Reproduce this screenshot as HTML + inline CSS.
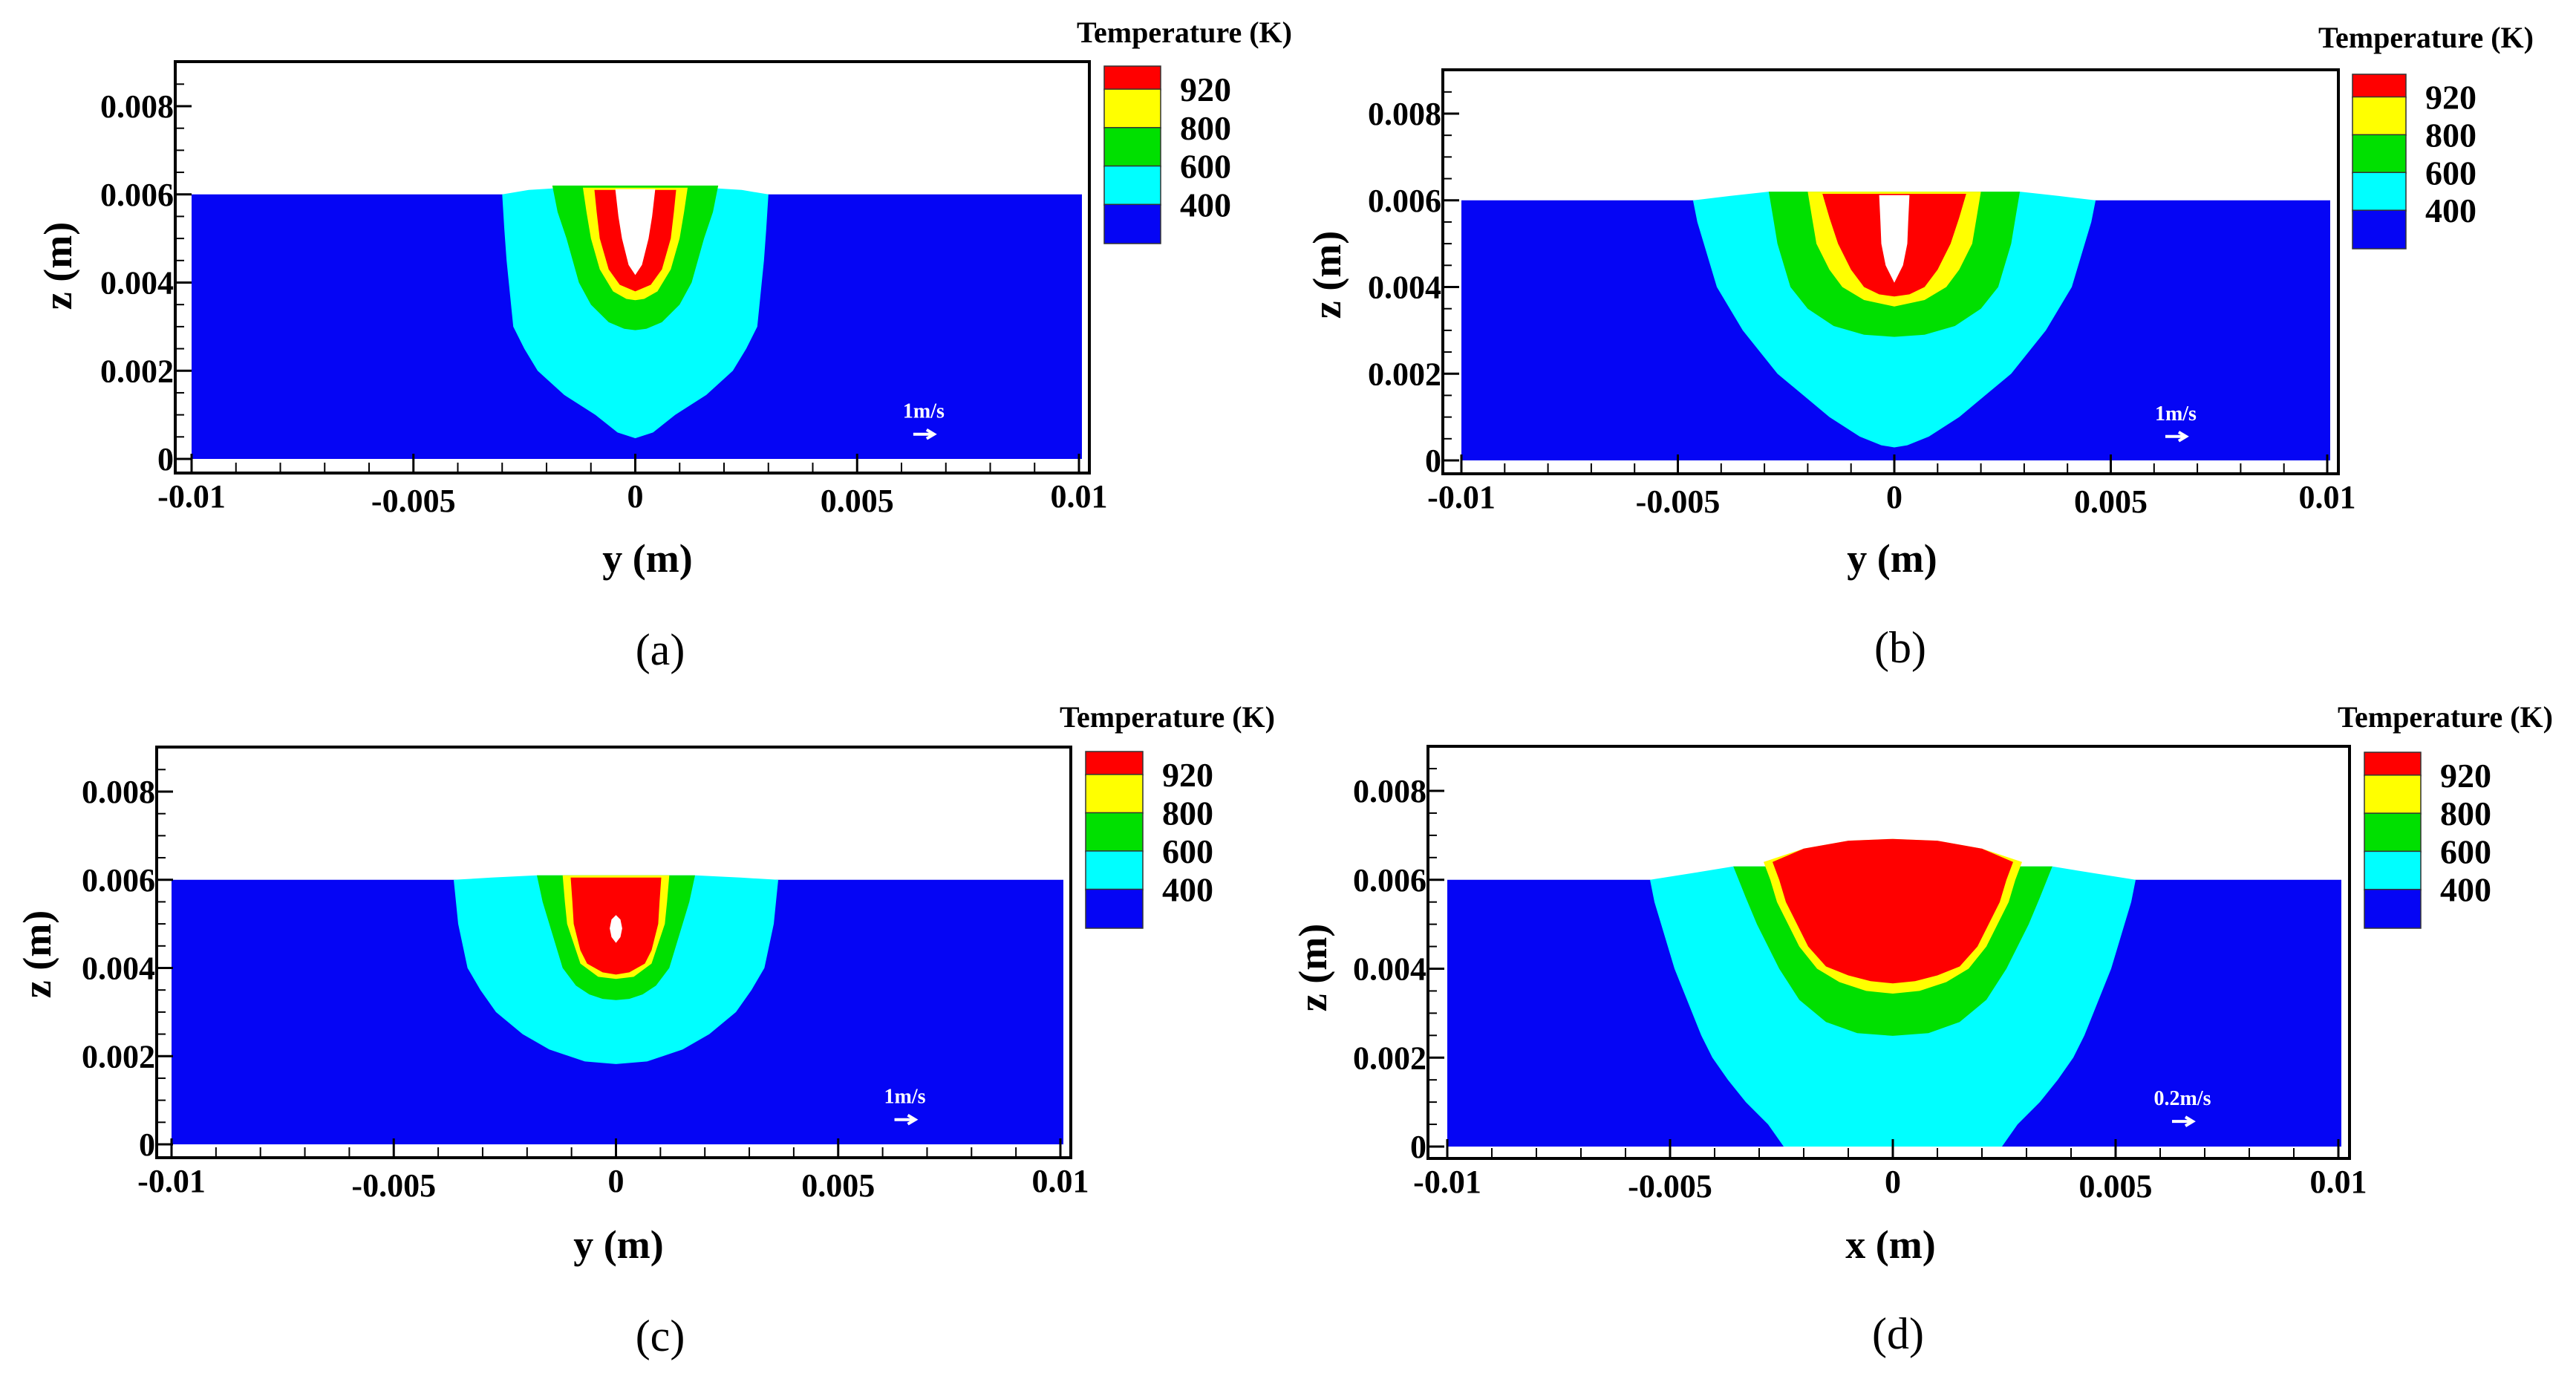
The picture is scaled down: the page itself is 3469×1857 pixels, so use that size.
<!DOCTYPE html>
<html><head><meta charset="utf-8"><style>
html,body{margin:0;padding:0;background:#fff;}
svg{display:block;}
text{font-family:"Liberation Serif",serif;}
</style></head>
<body>
<svg id="fig" width="3469" height="1857" viewBox="0 0 3469 1857" xmlns="http://www.w3.org/2000/svg"></svg>
<script>
// ---- data (mm units for contours) ----
const xTicks=[-0.01,-0.005,0,0.005,0.01];
const xTickLabels=['-0.01','-0.005','0','0.005','0.01'];
const zTicks=[0,0.002,0.004,0.006,0.008];
const zTickLabels=['0','0.002','0.004','0.006','0.008'];
const legendLabels=['920','800','600','400'];
const legendColors=['#ff0000','#ffff00','#00e000','#00ffff','#0505f5'];
const zoneColors=['#00ffff','#00e000','#ffff00','#ff0000','#ffffff'];
const velLabels=['1m/s','1m/s','1m/s','0.2m/s'];
const xAxisTitles=['y (m)','y (m)','y (m)','x (m)'];
const subLabels=['(a)','(b)','(c)','(d)'];
// right-half contour points [x mm, z mm], top to bottom (mirrored about x=0)
const aCyan=[[1.6,6.15],[2.4,6.1],[3.0,6.0],[2.95,5.2],[2.9,4.5],[2.75,3],[2.5,2.5],[2.2,2],[1.6,1.45],[0.9,1],[0.4,0.6],[0,0.47]];
const aGreen=[[1.87,6.2],[1.75,5.6],[1.55,5],[1.27,4],[1.0,3.5],[0.6,3.1],[0.25,2.95],[0,2.92]];
const aYellow=[[1.18,6.15],[1.1,5.6],[1.0,5],[0.8,4.3],[0.5,3.8],[0.2,3.63],[0,3.6]];
const aRed=[[0.92,6.1],[0.87,5.6],[0.8,5],[0.6,4.3],[0.35,3.95],[0,3.8]];
const aWhite=[[0.45,6.12],[0.38,5.5],[0.3,5],[0.15,4.4],[0,4.17]];
const bCyan=[[2.9,6.2],[3.8,6.1],[4.65,6.0],[4.55,5.5],[4.4,5],[4.1,4],[3.5,3],[3.1,2.5],[2.7,2],[2.1,1.5],[1.5,1],[0.8,0.55],[0.3,0.35],[0,0.3]];
const bGreen=[[2.9,6.2],[2.8,5.6],[2.7,5],[2.4,4],[2.0,3.5],[1.4,3.1],[0.7,2.9],[0,2.85]];
const bYellow=[[2.0,6.2],[1.9,5.6],[1.8,5],[1.5,4.4],[1.2,4],[0.7,3.7],[0,3.55]];
const bRed=[[1.66,6.15],[1.5,5.6],[1.3,5],[1.0,4.4],[0.7,4],[0.35,3.83],[0,3.78]];
const bWhite=[[0.35,6.12],[0.32,5.5],[0.3,5],[0.2,4.5],[0,4.1]];
const cCyan=[[1.78,6.1],[2.8,6.05],[3.65,6.0],[3.6,5.5],[3.55,5],[3.34,4],[3.05,3.5],[2.7,3],[2.1,2.5],[1.5,2.15],[0.7,1.88],[0,1.82]];
const cGreen=[[1.78,6.1],[1.65,5.5],[1.5,5],[1.2,4],[0.9,3.6],[0.6,3.4],[0.3,3.3],[0,3.27]];
const cYellow=[[1.2,6.1],[1.15,5.5],[1.1,5],[0.9,4.4],[0.8,4.1],[0.4,3.8],[0,3.75]];
const cRed=[[1.02,6.05],[0.98,5.5],[0.95,5],[0.8,4.4],[0.65,4.1],[0.3,3.9],[0,3.85]];
const cWhite=[[0,5.2],[0.1,5.1],[0.14,4.9],[0.1,4.7],[0,4.57]];
const dCyan=[[3.58,6.3],[4.5,6.15],[5.45,6.0],[5.35,5.5],[5.2,5],[4.9,4],[4.5,3],[4.3,2.5],[4.05,2],[3.7,1.5],[3.3,1],[2.8,0.5],[2.45,0]];
const dGreen=[[3.58,6.3],[3.3,5.6],[3.05,5],[2.55,4],[2.1,3.3],[1.5,2.8],[0.8,2.55],[0,2.49]];
const dYellow=[[0,6.92],[1.0,6.88],[2.0,6.7],[2.9,6.4],[2.75,6.0],[2.6,5.5],[2.1,4.5],[1.7,4.0],[1.2,3.7],[0.6,3.5],[0,3.44]];
const dRed=[[0,6.92],[1.0,6.88],[2.0,6.7],[2.7,6.4],[2.55,6.0],[2.4,5.5],[1.9,4.5],[1.5,4.05],[1.0,3.85],[0.5,3.72],[0,3.67]];
const dWhite=[];
const panelZones=[[aCyan,aGreen,aYellow,aRed,aWhite],[bCyan,bGreen,bYellow,bRed,bWhite],[cCyan,cGreen,cYellow,cRed,cWhite],[dCyan,dGreen,dYellow,dRed,dWhite]];
const surfaceZ=6.0;
const velPos=[6.5,1.1];

// ---- layout ----
const panels=[
 {f:[236,83,1467,637],xa:258,xb:1453,z0:618,z8:143,lg:[1487,89,1563,327],tr:1740,tb:57,xl:[872,770],sl:[889,895],zl:[78,358]},
 {f:[1943,94,3149,638],xa:1968,xb:3134,z0:620,z8:153,lg:[3168,100,3240,334],tr:3412,tb:64,xl:[2548,770],sl:[2559,892],zl:[1787,370]},
 {f:[211,1006,1442,1559],xa:231,xb:1428,z0:1541,z8:1066,lg:[1462,1012,1539,1249],tr:1717,tb:979,xl:[833,1694],sl:[889,1819],zl:[50,1285]},
 {f:[1923,1005,3164,1560],xa:1949,xb:3149,z0:1544,z8:1065,lg:[3184,1013,3260,1249],tr:3438,tb:979,xl:[2546,1694],sl:[2556,1816],zl:[1768,1303]}
];
const NS='http://www.w3.org/2000/svg';
const svg=document.getElementById('fig');
function mk(tag,attrs,parent){const e=document.createElementNS(NS,tag);for(const k in attrs)e.setAttribute(k,attrs[k]);(parent||svg).appendChild(e);return e;}
function poly(pts){
  return 'M'+pts.map(p=>p[0].toFixed(1)+','+p[1].toFixed(1)).join('L')+'Z';
}
panels.forEach((P,pi)=>{
  const g=mk('g',{});
  
  
  const sx=v=>P.xa+(v+0.01)/0.02*(P.xb-P.xa);
  const sz=v=>P.z0-v/0.008*(P.z0-P.z8);
  const mx=mm=>sx(mm/1000), mz=mm=>sz(mm/1000);
  const blue=mk('rect',{x:sx(-0.01),y:mz(surfaceZ),width:sx(0.01)-sx(-0.01)+4,height:mz(0)-mz(surfaceZ),fill:'#0505f5'},g);
  
  
  panelZones[pi].forEach((pts,zi)=>{
    if(!pts.length)return;
    const left=pts.map(p=>[mx(-p[0]),mz(p[1])]);
    const right=pts.slice().reverse().filter((p,i)=>!(i===0&&p[0]===0)).map(p=>[mx(p[0]),mz(p[1])]);
    const path=mk('path',{d:poly(left.concat(right)),fill:zoneColors[zi],'stroke-linejoin':'round'},g);
    
    
  });
  const [fl,ft,fr,fb]=P.f;
  const fr_=mk('rect',{x:fl,y:ft,width:fr-fl,height:fb-ft,fill:'none',stroke:'#000','stroke-width':4},g);
  
  
  for(let i=0;i<=20;i++){const v=-0.01+i*0.001;const x=sx(v);const maj=i%5===0;
    mk('line',{x1:x,y1:fb,x2:x,y2:fb-(maj?26:14),stroke:'#000','stroke-width':maj?3:2},g);}
  for(let i=0;i<=18;i++){const v=i*0.0005;const y=sz(v);const maj=i%4===0;
    mk('line',{x1:fl,y1:y,x2:fl+(maj?22:12),y2:y,stroke:'#000','stroke-width':maj?3:2},g);}
  xTicks.forEach((v,i)=>{const t=mk('text',{x:sx(v),y:fb+(i%2?52:46),'text-anchor':'middle','font-size':44,'font-weight':'bold'},g);t.textContent=xTickLabels[i];
    
    });
  zTicks.forEach((v,i)=>{const t=mk('text',{x:fl-2,y:sz(v)+15,'text-anchor':'end','font-size':44,'font-weight':'bold'},g);t.textContent=zTickLabels[i];
    
    });
  const xt=mk('text',{x:P.xl[0],y:P.xl[1],'text-anchor':'middle','font-size':54,'font-weight':'bold'},g);xt.textContent=xAxisTitles[pi];
  
  
  const zt=mk('text',{x:0,y:0,'text-anchor':'middle','font-size':54,'font-weight':'bold',transform:`translate(${P.zl[0]+18},${P.zl[1]}) rotate(-90)`},g);zt.textContent='z (m)';
  
  
  const st=mk('text',{x:P.sl[0],y:P.sl[1],'text-anchor':'middle','font-size':60},g);st.textContent=subLabels[pi];
  
  
  const [ll,lt,lr,lb]=P.lg;const h=(lb-lt)/4.6;
  const seg=[0.6,1,1,1,1];let y=lt;
  seg.forEach((s,i)=>{const r=mk('rect',{x:ll,y:y,width:lr-ll,height:h*s+1,fill:legendColors[i],stroke:'#333','stroke-width':1.5},g);
    
    
    y+=h*s;
    if(i<4){const t=mk('text',{x:lr+26,y:y+16,'font-size':46,'font-weight':'bold'},g);t.textContent=legendLabels[i];
      
      }
  });
  const tt=mk('text',{x:P.tr,y:P.tb,'text-anchor':'end','font-size':40,'font-weight':'bold'},g);tt.textContent='Temperature (K)';
  
  
  const vt=mk('text',{x:mx(velPos[0]),y:mz(velPos[1])+10,'text-anchor':'middle','font-size':28,'font-weight':'bold',fill:'#fff'},g);vt.textContent=velLabels[pi];
  
  
  const ax=mx(velPos[0]),ay=mz(velPos[1])+32;
  const ar=mk('path',{d:`M${ax-14},${ay}H${ax+12}M${ax+4},${ay-6}L${ax+14},${ay}L${ax+4},${ay+6}`,stroke:'#fff','stroke-width':4,fill:'none'},g);
  
  
});
</script>
</body></html>
